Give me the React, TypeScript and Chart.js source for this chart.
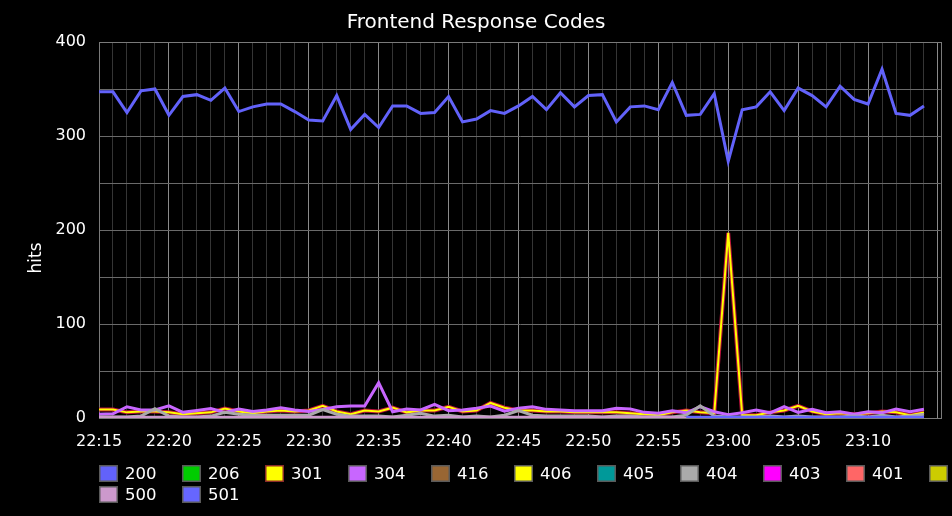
import React, { useEffect, useRef } from "react";
import { Chart, registerables } from "chart.js";

Chart.register(...registerables);

const TITLE = "Frontend Response Codes";
const Y_TITLE = "hits";
const TIME_LABELS = ["22:15", "22:20", "22:25", "22:30", "22:35", "22:40", "22:45", "22:50", "22:55", "23:00", "23:05", "23:10"];
const Y_TICKS = [0, 100, 200, 300, 400];

// one sample per minute, 22:15 .. 23:14
const S200 = [347, 347, 325, 348, 350, 322, 342, 344, 338, 351, 326, 331, 334, 334, 326, 317, 316, 343, 307, 323, 309, 332, 332, 324, 325, 342, 315, 318, 327, 324, 332, 342, 328, 346, 331, 343, 344, 315, 331, 332, 328, 357, 322, 323, 345, 273, 328, 331, 347, 327, 351, 343, 331, 353, 339, 334, 371, 324, 322, 332];
const S206 = [0, 0, 0, 0, 0, 0, 0, 0, 0, 0, 0, 0, 0, 0, 0, 0, 0, 0, 0, 0, 0, 0, 0, 0, 0, 0, 0, 0, 0, 0, 0, 0, 0, 0, 0, 0, 0, 0, 0, 0, 0, 0, 0, 0, 0, 0, 0, 0, 0, 0, 0, 0, 0, 0, 0, 0, 0, 0, 0, 0];
const S301 = [9, 9, 6, 7, 7, 6, 4, 5, 6, 10, 7, 5, 7, 8, 7, 8, 13, 7, 4, 8, 7, 11, 6, 8, 8, 12, 7, 8, 16, 11, 8, 8, 7, 7, 6, 6, 6, 6, 5, 4, 3, 6, 8, 6, 5, 197, 3, 3, 6, 8, 13, 7, 4, 5, 4, 5, 7, 6, 3, 6];
const S304 = [4, 4.5, 12, 8.5, 8.5, 13, 6, 8, 10, 6, 9.5, 7, 8.5, 11, 8.5, 7, 9, 12, 12.7, 12.7, 37.6, 6.7, 9.5, 8.5, 14.5, 7.8, 8.5, 10.3, 12.7, 7.3, 10.3, 12, 9.2, 8.5, 7.8, 7.8, 7.8, 10.3, 9.5, 6, 5, 7.8, 5.5, 12, 6.7, 3.5, 5.5, 8.5, 5.5, 12, 6, 9.2, 5.5, 6.7, 4, 6.7, 5.5, 9.5, 6.7, 9.2];
const S416 = S206;
const S406 = S206;
const S405 = S206;
const S404 = [1, 1, 1, 2, 10, 2, 1, 1, 2, 6, 4, 3, 3, 3, 3, 3, 9, 4, 2, 2, 2, 1, 3, 5, 2, 3, 1, 2, 1, 3, 8, 3, 2, 2, 2, 2, 1, 2, 2, 1, 1, 1, 3, 13, 2, 1, 1, 1, 2, 1, 2, 1, 1, 1, 2, 1, 3, 1, 2, 4];
const S403 = S206;
const S401 = S206;
const S400 = S206;
const S500 = [1, 1, 1, 1, 1, 1, 1, 1, 1, 1, 1, 1, 1, 1, 1, 1, 1, 1, 1, 1, 1, 1, 1, 1, 1, 1, 1, 1, 1, 1, 1, 1, 1, 1, 1, 1, 1, 1, 1, 1, 1, 1, 0, 0, 0, 0, 0, 0, 0, 0, 0, 0, 0, 0, 0, 0, 0, 0, 0, 0];
const S501 = [null, null, null, null, null, null, null, null, null, null, null, null, null, null, null, null, null, null, null, null, null, null, null, null, null, null, null, null, null, null, null, null, null, null, null, null, null, null, null, null, null, null, 1, 1, 1, 1, 1, 1, 1, 1, 1, 1, 1, 1, 1, 1, 1, 1, 1, 1];

const SERIES_NAMES = ["200", "206", "301", "304", "416", "406", "405", "404", "403", "401", "400", "500", "501"];
const SERIES_DATA = [S200, S206, S301, S304, S416, S406, S405, S404, S403, S401, S400, S500, S501];
const SERIES_COLORS = ["#6262fa", "#00cc00", "#ffff00", "#c866ff", "#996633", "#ffff00", "#009999", "#aaaaaa", "#ff00ff", "#ff6666", "#cccc00", "#cc99cc", "#6666ff"];
const SERIES_WIDTHS = [3, 2, 2, 3, 2, 2, 2, 3, 2, 2, 2, 2.5, 2.5];
const BOX_BORDERS = ["#5a5a5a", "#5a5a5a", "#8a2a2a", "#5a5a5a", "#5a5a5a", "#5a5a5a", "#5a5a5a", "#5a5a5a", "#5a5a5a", "#5a5a5a", "#5a5a5a", "#5a5a5a", "#5a5a5a"];
const EDGE_301 = "#b8103c";

const FONT = '"DejaVu Sans", sans-serif';

const decor = {
  id: "decor",
  beforeDatasetsDraw(chart: any) {
    const { ctx, chartArea: a } = chart;
    ctx.save();
    ctx.strokeStyle = "#7a7a7a";
    ctx.lineWidth = 1;
    ctx.strokeRect(Math.round(a.left) + 0.5, Math.round(a.top) + 0.5, Math.round(a.right - a.left), Math.round(a.bottom - a.top));
    ctx.restore();
  },
  afterDraw(chart: any) {
    const { ctx } = chart;
    ctx.save();
    ctx.fillStyle = "#ffffff";
    ctx.font = `20px ${FONT}`;
    ctx.textAlign = "center";
    ctx.textBaseline = "alphabetic";
    ctx.fillText(TITLE, 476, 28);

    ctx.save();
    ctx.translate(37, 258);
    ctx.rotate(-Math.PI / 2);
    ctx.font = `17px ${FONT}`;
    ctx.textBaseline = "middle";
    ctx.fillText(Y_TITLE, 0, 0);
    ctx.restore();

    const x0 = 99, dx = 83, y0 = 465, dy = 21, perRow = 11, bw = 19, bh = 17;
    ctx.font = `16.5px ${FONT}`;
    ctx.textAlign = "left";
    SERIES_NAMES.forEach((name, i) => {
      const r = Math.floor(i / perRow);
      const c = i % perRow;
      const x = x0 + c * dx;
      const y = y0 + r * dy;
      ctx.fillStyle = SERIES_COLORS[i];
      ctx.fillRect(x, y, bw, bh);
      ctx.strokeStyle = BOX_BORDERS[i];
      ctx.lineWidth = 1.5;
      ctx.strokeRect(x + 0.75, y + 0.75, bw - 1.5, bh - 1.5);
      ctx.fillStyle = "#ffffff";
      ctx.fillText(name, x + 26, y + 14);
    });
    ctx.restore();
  },
};

export default function App() {
  const ref = useRef<HTMLCanvasElement | null>(null);

  useEffect(() => {
    document.body.style.margin = "0";
    document.body.style.background = "#000";
    const canvas = ref.current;
    if (!canvas) return;

    const datasets: any[] = [];
    let drawIndex = 0;
    SERIES_NAMES.forEach((name, i) => {
      const pts = SERIES_DATA[i].map((v, k) => ({ x: k, y: v }));
      if (name === "301") {
        datasets.push({
          label: "301 edge",
          data: pts,
          borderColor: EDGE_301,
          borderWidth: 4,
          pointRadius: 0,
          tension: 0,
          fill: false,
          order: 1000 - drawIndex++,
        });
      }
      datasets.push({
        label: name,
        data: pts,
        borderColor: SERIES_COLORS[i],
        backgroundColor: SERIES_COLORS[i],
        borderWidth: SERIES_WIDTHS[i],
        pointRadius: 0,
        tension: 0,
        fill: false,
        spanGaps: false,
        order: 1000 - drawIndex++,
      });
    });

    const chart = new Chart(canvas, {
      type: "line",
      data: { datasets },
      options: {
        animation: false,
        responsive: false,
        maintainAspectRatio: false,
        devicePixelRatio: 1,
        layout: { padding: { top: 42, right: 10, left: 0, bottom: 0 } },
        plugins: {
          legend: { display: false },
          tooltip: { enabled: false },
          title: { display: false },
        },
        scales: {
          x: {
            type: "linear",
            min: 0,
            max: 60.2,
            afterFit: (s: any) => { s.height = 98; },
            ticks: {
              stepSize: 1,
              autoSkip: false,
              maxRotation: 0,
              includeBounds: false,
              color: "#ffffff",
              font: { family: FONT, size: 16 },
              padding: 14,
              callback: (v: any) => (Number(v) % 5 === 0 ? TIME_LABELS[Number(v) / 5] ?? "" : ""),
            },
            grid: {
              drawTicks: false,
              lineWidth: 1,
              color: (c: any) => (c.tick && c.tick.value % 5 === 0 ? "#8a8a8a" : "#353535"),
            },
            border: { color: "#7a7a7a" },
          },
          y: {
            type: "linear",
            min: 0,
            max: 400,
            afterFit: (s: any) => { s.width = 99; },
            ticks: {
              stepSize: 50,
              autoSkip: false,
              color: "#ffffff",
              font: { family: FONT, size: 16 },
              padding: 13,
              callback: (v: any) => (Y_TICKS.includes(Number(v)) ? String(v) : ""),
            },
            grid: {
              drawTicks: false,
              lineWidth: 1,
              color: "#6a6a6a",
            },
            border: { color: "#7a7a7a" },
          },
        },
      },
      plugins: [decor],
    });

    return () => chart.destroy();
  }, []);

  return (
    <div style={{ width: 952, height: 516, background: "#000" }}>
      <canvas ref={ref} width={952} height={516} style={{ display: "block" }} />
    </div>
  );
}
